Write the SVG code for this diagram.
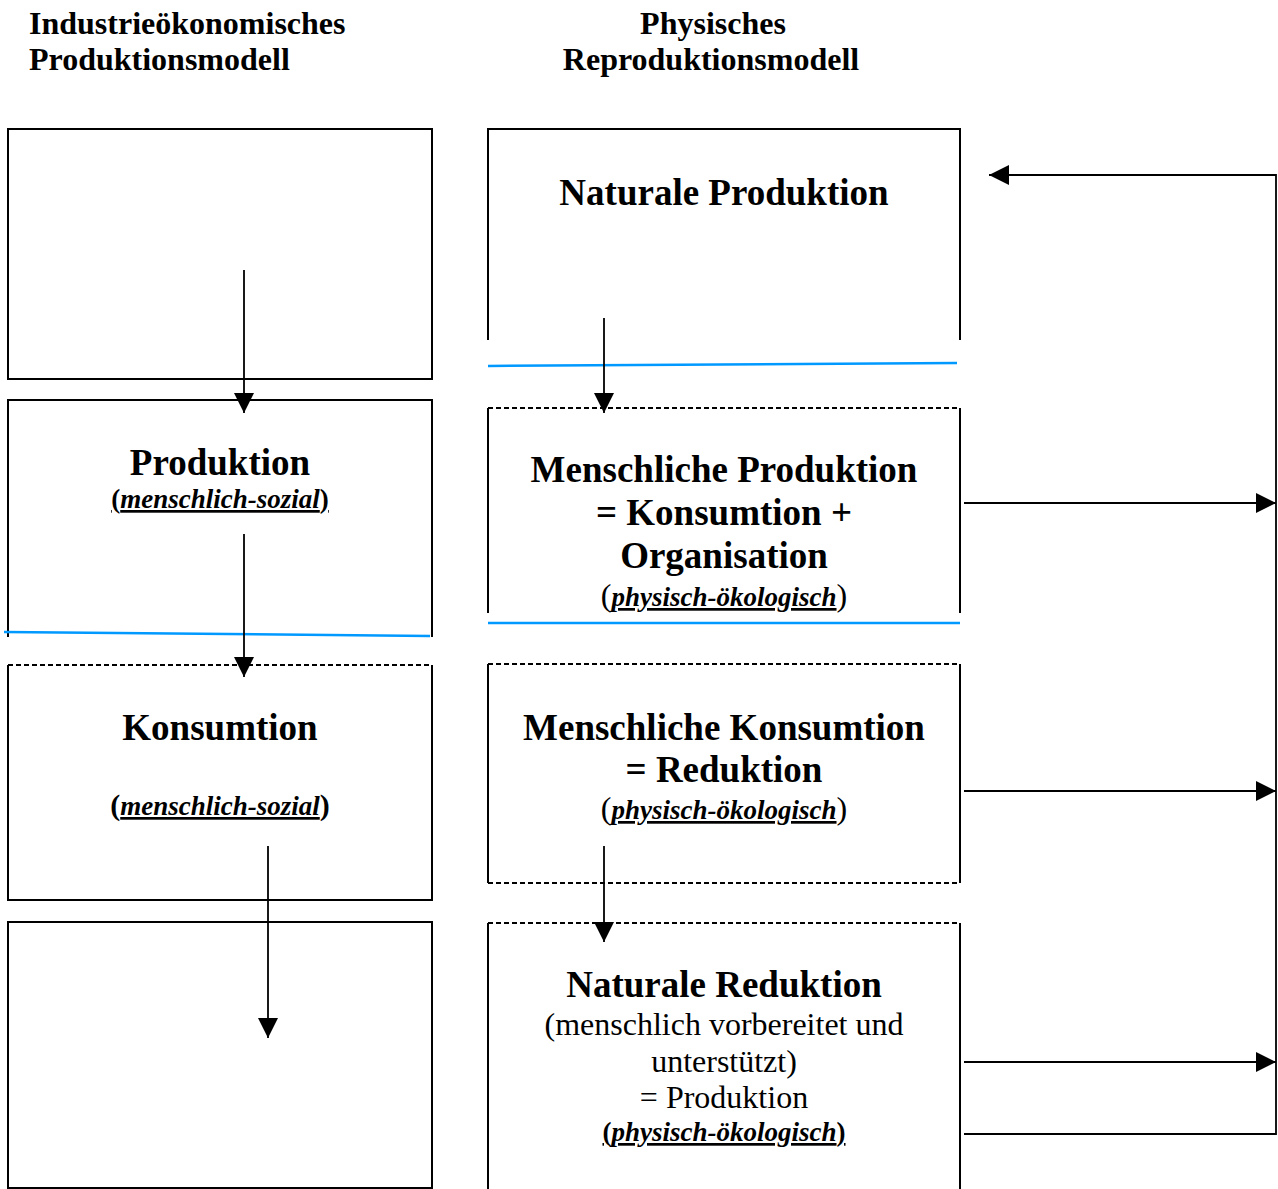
<svg xmlns="http://www.w3.org/2000/svg" width="1278" height="1189" viewBox="0 0 1278 1189">
<style>
text{font-family:"Liberation Serif","Times New Roman",serif;fill:#000}
.title{font-size:32px;font-weight:bold}
.h{font-size:37px;font-weight:bold;text-anchor:middle}
.r{font-size:32px;text-anchor:middle}
.s{font-size:27px;font-weight:bold;text-anchor:middle}
.it{font-style:italic}
.u{text-decoration:underline}
.box{fill:none;stroke:#000;stroke-width:2}
.dot{fill:none;stroke:#000;stroke-width:2;stroke-dasharray:5 3}
.blue{fill:none;stroke:#0099FF;stroke-width:2.5}
.con{fill:none;stroke:#000;stroke-width:1.8}
</style>
<defs>
<marker id="ah" markerUnits="userSpaceOnUse" markerWidth="20" markerHeight="20" refX="20" refY="10" orient="auto">
<path d="M0,0 L20,10 L0,20 z" fill="#000"/>
</marker>
</defs>
<g id="titles">
<text class="title" x="29" y="34">Industrieökonomisches</text>
<text class="title" x="29" y="70">Produktionsmodell</text>
<text class="title" x="713" y="34" text-anchor="middle">Physisches</text>
<text class="title" x="711" y="70" text-anchor="middle">Reproduktionsmodell</text>
</g>
<g id="left-box-1">
<rect class="box" x="8" y="129" width="424" height="250"/>
</g>
<g id="left-box-produktion">
<path class="box" d="M8,637 V400 H432 V637"/>
<text class="h" x="220" y="475">Produktion</text>
<text class="s" x="220" y="508"><tspan class="u">(<tspan class="it">menschlich-sozial</tspan>)</tspan></text>
</g>
<g id="left-box-konsumtion">
<path class="dot" d="M8,665 H432"/>
<path class="box" d="M8,665 V900 H432 V665"/>
<text class="h" x="220" y="740">Konsumtion</text>
<text class="s" x="220" y="815"><tspan font-size="30">(</tspan><tspan class="it u">menschlich-sozial</tspan><tspan font-size="30">)</tspan></text>
</g>
<g id="left-box-4">
<rect class="box" x="8" y="922" width="424" height="266"/>
</g>
<g id="right-box-naturale-produktion">
<path class="box" d="M488,340 V129 H960 V340"/>
<text class="h" x="724" y="205">Naturale Produktion</text>
</g>
<g id="right-box-menschliche-produktion">
<path class="dot" d="M488,408 H960"/>
<path class="box" d="M488,613 V408 M960,408 V613"/>
<text class="h" x="724" y="482">Menschliche Produktion</text>
<text class="h" x="724" y="525">= Konsumtion +</text>
<text class="h" x="724" y="568">Organisation</text>
<text class="s" x="724" y="606"><tspan font-size="32" font-weight="normal">(</tspan><tspan class="it u">physisch-ökologisch</tspan><tspan font-size="32" font-weight="normal">)</tspan></text>
</g>
<g id="right-box-menschliche-konsumtion">
<path class="dot" d="M488,664 H960 M488,883 H960"/>
<path class="box" d="M488,664 V883 M960,664 V883"/>
<text class="h" x="724" y="740">Menschliche Konsumtion</text>
<text class="h" x="724" y="782">= Reduktion</text>
<text class="s" x="724" y="819"><tspan font-size="32" font-weight="normal">(</tspan><tspan class="it u">physisch-ökologisch</tspan><tspan font-size="32" font-weight="normal">)</tspan></text>
</g>
<g id="right-box-naturale-reduktion">
<path class="dot" d="M488,923 H960"/>
<path class="box" d="M488,923 V1189 M960,923 V1189"/>
<text class="h" x="724" y="997">Naturale Reduktion</text>
<text class="r" x="724" y="1035">(menschlich vorbereitet und</text>
<text class="r" x="724" y="1072">unterstützt)</text>
<text class="r" x="724" y="1108">= Produktion</text>
<text class="s" x="724" y="1141"><tspan class="u">(<tspan class="it">physisch-ökologisch</tspan>)</tspan></text>
</g>
<g id="separators">
<path class="blue" d="M4,632 L430,636"/>
<path class="blue" d="M488,366 L957,363"/>
<path class="blue" d="M488,623 L960,623"/>
</g>
<g id="connectors">
<path class="con" d="M244,270 V413" marker-end="url(#ah)"/>
<path class="con" d="M244,534 V677" marker-end="url(#ah)"/>
<path class="con" d="M268,846 V1038" marker-end="url(#ah)"/>
<path class="con" d="M604,318 V413" marker-end="url(#ah)"/>
<path class="con" d="M604,846 V942" marker-end="url(#ah)"/>
<path class="con" d="M964,503 H1276" marker-end="url(#ah)"/>
<path class="con" d="M964,791 H1276" marker-end="url(#ah)"/>
<path class="con" d="M964,1062 H1276" marker-end="url(#ah)"/>
<path class="con" d="M964,1134 H1276 V175 H989" marker-end="url(#ah)"/>
</g>
</svg>
